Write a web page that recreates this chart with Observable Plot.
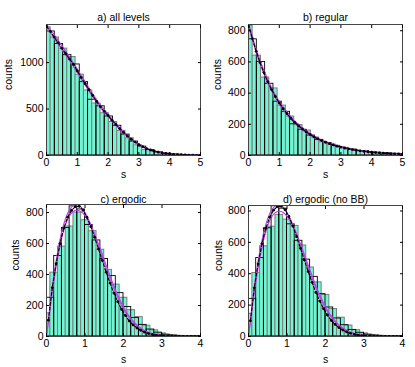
<!DOCTYPE html>
<html><head><meta charset="utf-8">
<script src="https://cdn.jsdelivr.net/npm/d3@7"></script>
<script src="https://cdn.jsdelivr.net/npm/@observablehq/plot@0.6"></script>
<style>
body{margin:0;background:#fff;}
#chart{position:relative;width:415px;height:367px;background:#fff;overflow:hidden;}
.panel{position:absolute;}
</style></head><body><div id="chart"></div>
<script>
// ---- panel titles / ticks ----
const titles = ["a) all levels", "b) regular", "c) ergodic", "d) ergodic (no BB)"];
const xTicksAB = [0, 1, 2, 3, 4, 5];
const xTicksCD = [0, 1, 2, 3, 4];
const yTicksA = [0, 500, 1000];
const yTicksBCD = [0, 200, 400, 600, 800];

// ---- panel a: all levels ----
const aBin = 0.27;
const aCyan = [1380, 1270, 1150, 1060, 870, 700, 560, 455, 360, 265, 185, 110, 60, 40, 22, 12, 7, 4, 2, 2];
const aBlack = [1335, 1200, 1080, 980, 790, 600, 530, 420, 320, 225, 150, 95, 58, 34, 20, 11, 6, 3, 2];
const aCurve = [1390,1335,1275,1215,1155,1095,1040,980,910,840,775,710,645,583,525,475,430,380,335,290,250,210,175,145,118,95,75,60,47,37,28,22,17,13,10,8,6,4,3,2,2];
const aMagHi = [1410,1300,1180,1060,930,795,665,545,445,345,258,182,122,78,48,29,17,10,6,3,2];
const aMagLo = [1380,1260,1140,1020,890,760,630,515,418,325,240,168,112,70,43,26,15,9,5,3,1];

// ---- panel b: regular ----
const bBin = 0.27;
const bCyan = [830, 640, 500, 430, 320, 250, 195, 160, 115, 85, 70, 55, 40, 30, 28, 20, 16, 12, 9, 8];
const bBlack = [745, 600, 460, 345, 280, 200, 165, 128, 100, 80, 62, 48, 38, 29, 23, 18, 14, 11, 9];
const bCurve = [840,750,668,596,532,474,423,377,337,300,268,239,213,190,170,151,135,120,107,96,85,76,68,60,54,48,43,38,34,30,27,24,21,19,17,15,13,12,11,10,9];
const bMagHi = [850,680,545,435,348,278,222,177,142,113,90,72,57,46,36,29,23,18,14,11,9];
const bMagLo = [830,660,522,413,328,260,206,163,129,102,81,64,50,40,31,25,19,15,12,9,7];

// ---- panel c: ergodic ----
const cBin = 0.2;
const cCyan = [150, 412, 580, 710, 800, 750, 680, 560, 430, 335, 250, 170, 125, 70, 40, 20, 10, 5, 3, 1, 1];
const cBlack = [250, 520, 700, 840, 820, 720, 620, 500, 390, 280, 190, 120, 75, 45, 25, 12, 6, 3, 1, 1];
const cCurve = [105,316,470,600,700,770,815,838,840,815,770,710,640,565,490,415,345,280,225,175,135,100,75,55,40,28,19,13,9,6,4,3,2,2,1,1,1,0,0,0];
const cMagHi = [0,220,410,560,680,765,820,845,850,835,800,750,690,620,550,475,405,340,280,225,178,138,105,78,58,42,30,21,14,9,6,4,3,2,1,1,1,0,0,0,0];
const cMagLo = [0,190,370,520,640,725,780,808,815,805,780,740,690,630,565,495,425,358,296,240,190,148,115,86,64,46,33,23,16,11,7,5,3,2,1,1,1,0,0,0,0];

// ---- panel d: ergodic (no BB) ----
const dBin = 0.2;
const dCyan = [145, 405, 575, 700, 775, 745, 705, 580, 440, 345, 265, 175, 120, 70, 40, 20, 10, 5, 3, 1, 1];
const dBlack = [240, 500, 690, 830, 815, 715, 610, 490, 380, 270, 185, 115, 72, 42, 24, 12, 6, 3, 1, 1];
const dCurve = [100,310,462,592,690,760,805,828,830,808,765,705,636,562,488,414,345,281,226,177,137,102,77,56,41,29,20,14,9,6,4,3,2,2,1,1,1,0,0,0];
const dMagHi = [0,215,402,550,668,752,806,832,838,824,790,742,684,616,546,473,404,340,280,226,179,139,106,79,59,43,31,22,15,10,6,4,3,2,1,1,1,0,0,0,0];
const dMagLo = [0,185,360,505,622,707,762,790,798,790,766,728,680,622,558,490,421,355,294,239,190,148,115,86,64,46,33,23,16,11,7,5,3,2,1,1,1,0,0,0,0];

const CYAN = "#72f5d3";
const MAG = "#c23ce8";
const FONT = "'Liberation Sans', Arial, Helvetica, sans-serif";

function makePanel(p) {
  const cyanRows = p.cyan.map((v, i) => ({c: i * p.bin, v}));
  const blackRows = p.black.map((v, i) => ({c: (i + 0.5) * p.bin, v}));
  const curveRows = p.curve.map((v, i) => ({s: p.curveStart + i * p.curveStep, v}));
  const hiRows = p.magHi.map((v, i) => ({s: i * p.magStep, v}));
  const loRows = p.magLo.map((v, i) => ({s: i * p.magStep, v}));
  return Plot.plot({
    width: p.width, height: p.height,
    marginLeft: p.ml, marginRight: p.mr, marginTop: p.mt, marginBottom: p.mb,
    x: {domain: [0, p.xMax]},
    y: {domain: [0, p.yMax]},
    style: {fontFamily: FONT, fontSize: "10.5px", color: "#000", background: "transparent", overflow: "visible"},
    marks: [
      Plot.rect(cyanRows, {x1: d => d.c - p.bin / 2, x2: d => d.c + p.bin / 2, y1: 0, y2: "v", fill: CYAN, stroke: "#7d7d7d", strokeWidth: 1, clip: true}),
      Plot.rect(blackRows, {x1: d => d.c - p.bin / 2, x2: d => d.c + p.bin / 2, y1: 0, y2: "v", fill: "none", stroke: "#000", strokeWidth: 0.9, clip: true}),
      Plot.line(hiRows, {x: "s", y: "v", stroke: MAG, strokeWidth: 1.1, curve: "natural", clip: true}),
      Plot.line(loRows, {x: "s", y: "v", stroke: MAG, strokeWidth: 1.1, curve: "natural", clip: true}),
      Plot.line(curveRows, {x: "s", y: "v", stroke: "#000", strokeWidth: 1.1, strokeDasharray: "3,2", clip: true}),
      Plot.dot(curveRows, {x: "s", y: "v", r: 1.4, fill: "#000", clip: true}),
      Plot.frame({stroke: "#444"}),
      Plot.axisX({ticks: p.xTicks, tickSize: -3, tickPadding: 6, label: null, tickFormat: d3.format("d")}),
      Plot.axisX({anchor: "top", ticks: p.xTicks, tickSize: -3, tickFormat: () => "", label: null}),
      Plot.axisY({ticks: p.yTicks, tickSize: -3, tickPadding: 6, label: null, tickFormat: d3.format("d")}),
      Plot.axisY({anchor: "right", ticks: p.yTicks, tickSize: -3, tickFormat: () => "", label: null}),
      Plot.text([p.title], {text: d => d, frameAnchor: "top", dy: p.titleDy, fontSize: 10.5}),
      Plot.text(["s"], {text: d => d, frameAnchor: "bottom", dy: p.sDy, fontSize: 10.5}),
      Plot.text(["counts"], {text: d => d, frameAnchor: "left", rotate: -90, dx: p.countsDx, fontSize: 10.5})
    ]
  });
}

const panels = [
  {left: 0, top: 0, width: 207, height: 183, ml: 46, mr: 7, mt: 24, mb: 28, xMax: 5, yMax: 1410,
   xTicks: xTicksAB, yTicks: yTicksA, title: titles[0], bin: aBin, cyan: aCyan, black: aBlack,
   curve: aCurve, curveStart: 0, curveStep: 0.125, magHi: aMagHi, magLo: aMagLo, magStep: 0.25,
   titleDy: -11, sDy: 22, countsDx: -38},
  {left: 207, top: 0, width: 208, height: 183, ml: 41, mr: 13, mt: 24, mb: 28, xMax: 5, yMax: 840,
   xTicks: xTicksAB, yTicks: yTicksBCD, title: titles[1], bin: bBin, cyan: bCyan, black: bBlack,
   curve: bCurve, curveStart: 0, curveStep: 0.125, magHi: bMagHi, magLo: bMagLo, magStep: 0.25,
   titleDy: -11, sDy: 22, countsDx: -31},
  {left: 0, top: 183, width: 207, height: 184, ml: 46, mr: 7, mt: 21, mb: 31, xMax: 4, yMax: 852,
   xTicks: xTicksCD, yTicks: yTicksBCD, title: titles[2], bin: cBin, cyan: cCyan, black: cBlack,
   curve: cCurve, curveStart: 0.05, curveStep: 0.1, magHi: cMagHi, magLo: cMagLo, magStep: 0.1,
   titleDy: -9, sDy: 26, countsDx: -31},
  {left: 207, top: 183, width: 208, height: 184, ml: 41, mr: 13, mt: 22, mb: 31, xMax: 4, yMax: 835,
   xTicks: xTicksCD, yTicks: yTicksBCD, title: titles[3], bin: dBin, cyan: dCyan, black: dBlack,
   curve: dCurve, curveStart: 0.05, curveStep: 0.1, magHi: dMagHi, magLo: dMagLo, magStep: 0.1,
   titleDy: -10, sDy: 26, countsDx: -30}
];

const chart = document.getElementById("chart");
for (const p of panels) {
  const div = document.createElement("div");
  div.className = "panel";
  div.style.left = p.left + "px";
  div.style.top = p.top + "px";
  div.appendChild(makePanel(p));
  chart.appendChild(div);
}
</script></body></html>
